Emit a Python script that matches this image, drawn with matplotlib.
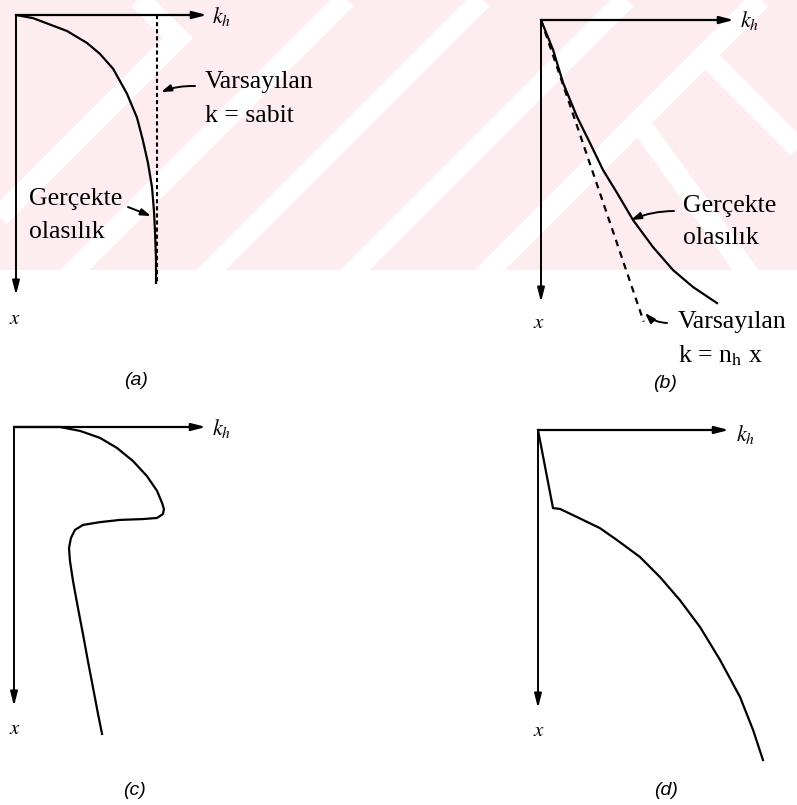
import matplotlib.pyplot as plt
from matplotlib.patches import Rectangle

plt.rcParams["mathtext.fontset"] = "stix"

W, H = 797, 805

# (a) k roughly constant with depth
a_k = [0, 0.89, 2.68, 3.74, 4.42, 5.11, 5.84, 6.37, 6.68, 6.95, 7.16, 7.26, 7.32, 7.37, 7.37]
a_depth = [0, 0.11, 0.57, 1.0, 1.39, 1.92, 2.81, 3.67, 4.48, 5.3, 6.16, 6.98, 7.79, 8.75, 9.57]
a_assumed_k = [7.42, 7.42]
a_assumed_depth = [0, 9.6]

# (b) k increasing with depth
b_k = [0, 0.63, 1.15, 1.88, 2.55, 3.23, 3.96, 4.79, 5.83, 6.88, 7.92, 9.17]
b_depth = [0, 1.06, 2.23, 3.44, 4.36, 5.32, 6.13, 7.09, 8.05, 8.87, 9.47, 10.04]
b_assumed_k = [0, 5.35]
b_assumed_depth = [0, 10.7]

# (c) soft layer between stiffer layers
c_k = [0, 2.41, 3.46, 4.50, 5.39, 6.23, 6.96, 7.49, 7.75, 7.85, 7.80, 7.49, 6.75, 5.55,
       4.50, 3.61, 3.19, 2.98, 2.88, 2.93, 3.09, 3.35, 3.61, 3.87, 4.14, 4.40, 4.61]
c_depth = [0, 0, 0.14, 0.39, 0.75, 1.22, 1.76, 2.29, 2.72, 2.94, 3.12, 3.26, 3.30, 3.33,
           3.41, 3.51, 3.69, 3.98, 4.34, 4.80, 5.52, 6.49, 7.42, 8.39, 9.35, 10.29, 11.0]

# (d) weak top layer over stiffening soil
d_k = [0, 0.79, 1.16, 2.05, 3.26, 4.16, 5.37, 6.42, 7.47, 8.53, 9.58, 10.63, 11.32, 11.84]
d_depth = [0, 2.81, 2.84, 3.13, 3.53, 3.96, 4.57, 5.29, 6.12, 7.09, 8.27, 9.60, 10.79, 11.87]

serif = "Liberation Serif"
fig = plt.figure(figsize=(W / 100, H / 100), dpi=100)

# background / annotation layer in pixel units
bg = fig.add_axes([0, 0, 1, 1], zorder=-5)
bg.set_xlim(0, W)
bg.set_ylim(H, 0)
bg.axis("off")

band = Rectangle((0, 0), W, 270, facecolor="#fdedf0", edgecolor="none")
bg.add_patch(band)
stripes = [
    [(120, -20), (178, 38), (-60, 276)],
    [(365, -20), (55, 290)],
    [(501, -20), (191, 290)],
    [(645, -20), (335, 290)],
    [(780, -20), (470, 290)],
    [(705, 55), (900, 250)],
    [(636, 118), (760, 290)],
]
for s in stripes:
    xs, ys = zip(*s)
    ln, = bg.plot(xs, ys, color="white", lw=15, solid_joinstyle="miter",
                  solid_capstyle="butt")
    ln.set_clip_path(band)


def panel(ox, oy, sx, sy):
    ax = fig.add_axes([ox / W, 1 - (oy + 10 * sy) / H, 10 * sx / W, 10 * sy / H])
    ax.set_xlim(0, 10)
    ax.set_ylim(10, 0)
    ax.axis("off")
    head = "-|>,head_length=0.7,head_width=0.18"
    ax.annotate("", xy=(10.05, 0), xytext=(0, 0), annotation_clip=False,
                arrowprops=dict(arrowstyle=head, color="black", lw=1.6,
                                mutation_scale=12, shrinkA=0, shrinkB=0))
    ax.annotate("", xy=(0, 10.0), xytext=(0, 0), annotation_clip=False,
                arrowprops=dict(arrowstyle=head, color="black", lw=1.4,
                                mutation_scale=12, shrinkA=0, shrinkB=0))
    return ax


def label(px, py, s, size=18.5, ha="left", **kw):
    bg.text(px, py, s, fontsize=size, ha=ha, va="center", family=serif, **kw)


def pointer(x0, y0, x1, y1, rad=0.0):
    bg.annotate("", xy=(x1, y1), xytext=(x0, y0),
                arrowprops=dict(arrowstyle="-|>,head_length=0.6,head_width=0.2",
                                color="black", lw=1.4, mutation_scale=10,
                                shrinkA=0, shrinkB=0,
                                connectionstyle="arc3,rad=%s" % rad))


ax_a = panel(16, 15, 19.0, 28.0)
ax_a.plot(a_k, a_depth, color="black", lw=1.6, clip_on=False)
ax_a.plot(a_assumed_k, a_assumed_depth, color="black", lw=1.5,
          linestyle=(0, (2, 1.4)), clip_on=False)

ax_b = panel(541, 20, 19.2, 28.2)
ax_b.plot(b_k, b_depth, color="black", lw=1.6, clip_on=False)
ax_b.plot(b_assumed_k, b_assumed_depth, color="black", lw=1.6,
          linestyle=(0, (3, 2.5)), clip_on=False)

ax_c = panel(14, 427, 19.1, 27.9)
ax_c.plot(c_k, c_depth, color="black", lw=1.6, clip_on=False)

ax_d = panel(538, 430, 19.0, 27.8)
ax_d.plot(d_k, d_depth, color="black", lw=1.6, clip_on=False)

# axis names
for px, py in [(222, 16), (750, 21), (222, 428), (746, 434)]:
    bg.text(px, py, r"$k_h$", fontsize=16, ha="center", va="center")
for px, py in [(15, 318), (539, 322), (15, 728), (539, 730)]:
    bg.text(px, py, r"$x$", fontsize=15, ha="center", va="center")

# panel captions
for px, py, s in [(136, 380, "(a)"), (665, 383, "(b)"), (134, 790, "(c)"), (666, 790, "(d)")]:
    bg.text(px, py, s, fontsize=14, ha="center", va="center",
            family="Liberation Sans", style="italic")

# notes on (a)
label(205, 82, "Varsayılan")
label(205, 116, "k = sabit")
pointer(195, 86, 161, 92, rad=0.1)
label(29, 199, "Gerçekte")
label(29, 232, "olasılık")
pointer(128, 207, 151, 216)

# notes on (b)
label(683, 206, "Gerçekte")
label(683, 238, "olasılık")
pointer(674, 211, 631, 220, rad=0.1)
label(678, 322, "Varsayılan")
label(678, 356, r"k = n$_{\mathrm{h}}$ x")
pointer(667, 323, 645, 313, rad=-0.2)

fig.savefig("out.png", dpi=100)
